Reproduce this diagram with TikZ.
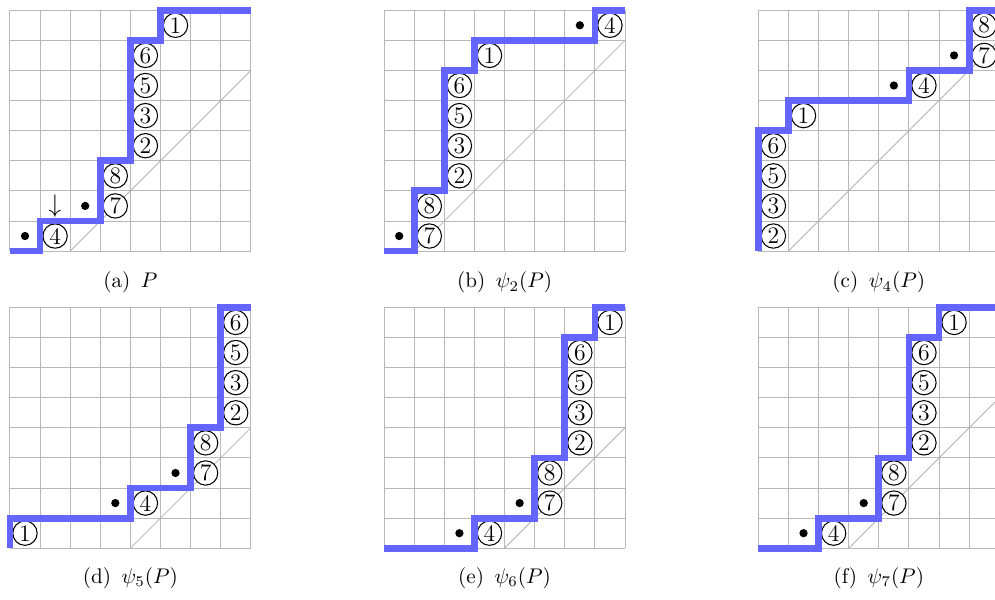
\documentclass[tikz,border=0pt]{standalone}
\definecolor{pathblue}{RGB}{100,100,255}
\tikzset{
    gridline/.style={black!28, line width=0.45pt},
    diagline/.style={black!30, line width=0.4pt},
    lattpath/.style={pathblue, line width=3.2pt, line join=miter},
    lab/.style={circle, draw, fill=white, inner sep=0pt, minimum size=11.5pt,
        line width=0.5pt, font=\fontsize{11.2}{13}\selectfont},
    blob/.style={circle, fill=black, inner sep=0pt, minimum size=3.9pt},
    capt/.style={font=\normalsize}
}
\begin{document}
\begin{tikzpicture}[x=0.5cm, y=0.5cm]
    \useasboundingbox (-0.33,-1.69) rectangle (32.72,18.21);

    % (a) P
    \begin{scope}[shift={(0,9.87)}]
        \draw[gridline, step=1] (0,0) grid (8,8);
        \draw[diagline] (2,0) -- (8,6);
        \foreach \n/\x/\y in {4/1/0, 7/3/1, 8/3/2, 2/4/3, 3/4/4, 5/4/5, 6/4/6, 1/5/7}
            \node[lab] (a\n) at (\x+0.5,\y+0.5) {\n};
        \draw[lattpath] (0,0) -- (1,0) -- (1,1) -- (3,1) -- (3,3) -- (4,3)
            -- (4,7) -- (5,7) -- (5,8) -- (8,8);
        \node[blob] (adot1) at (0.5,0.5) {};
        \node[blob] (adot2) at (2.5,1.5) {};
        \node[font=\large] (amark) at (1.5,1.5) {$\downarrow$};
        \node[capt] (capa) at (4,-1.05) {(a)\, $P$};
    \end{scope}

    % (b) psi_2(P)
    \begin{scope}[shift={(12.43,9.87)}]
        \draw[gridline, step=1] (0,0) grid (8,8);
        \draw[diagline] (1,0) -- (8,7);
        \foreach \n/\x/\y in {7/1/0, 8/1/1, 2/2/2, 3/2/3, 5/2/4, 6/2/5, 1/3/6, 4/7/7}
            \node[lab] (b\n) at (\x+0.5,\y+0.5) {\n};
        \draw[lattpath] (0,0) -- (1,0) -- (1,2) -- (2,2) -- (2,6) -- (3,6)
            -- (3,7) -- (7,7) -- (7,8) -- (8,8);
        \node[blob] (bdot1) at (0.5,0.5) {};
        \node[blob] (bdot2) at (6.5,7.5) {};
        \node[capt] (capb) at (4,-1.05) {(b)\, $\psi_2(P)$};
    \end{scope}

    % (c) psi_4(P)
    \begin{scope}[shift={(24.86,9.87)}]
        \draw[gridline, step=1] (0,0) grid (8,8);
        \draw[diagline] (1,0) -- (8,7);
        \foreach \n/\x/\y in {2/0/0, 3/0/1, 5/0/2, 6/0/3, 1/1/4, 4/5/5, 7/7/6, 8/7/7}
            \node[lab] (c\n) at (\x+0.5,\y+0.5) {\n};
        \draw[lattpath] (0,0) -- (0,4) -- (1,4) -- (1,5) -- (5,5) -- (5,6)
            -- (7,6) -- (7,8) -- (8,8);
        \node[blob] (cdot1) at (4.5,5.5) {};
        \node[blob] (cdot2) at (6.5,6.5) {};
        \node[capt] (capc) at (4,-1.05) {(c)\, $\psi_4(P)$};
    \end{scope}

    % (d) psi_5(P)
    \begin{scope}
        \draw[gridline, step=1] (0,0) grid (8,8);
        \draw[diagline] (4,0) -- (8,4);
        \foreach \n/\x/\y in {1/0/0, 4/4/1, 7/6/2, 8/6/3, 2/7/4, 3/7/5, 5/7/6, 6/7/7}
            \node[lab] (d\n) at (\x+0.5,\y+0.5) {\n};
        \draw[lattpath] (0,0) -- (0,1) -- (4,1) -- (4,2) -- (6,2) -- (6,4)
            -- (7,4) -- (7,8) -- (8,8);
        \node[blob] (ddot1) at (3.5,1.5) {};
        \node[blob] (ddot2) at (5.5,2.5) {};
        \node[capt] (capd) at (4,-1.0) {(d)\, $\psi_5(P)$};
    \end{scope}

    % (e) psi_6(P)
    \begin{scope}[shift={(12.43,0)}]
        \draw[gridline, step=1] (0,0) grid (8,8);
        \draw[diagline] (4,0) -- (8,4);
        \foreach \n/\x/\y in {4/3/0, 7/5/1, 8/5/2, 2/6/3, 3/6/4, 5/6/5, 6/6/6, 1/7/7}
            \node[lab] (e\n) at (\x+0.5,\y+0.5) {\n};
        \draw[lattpath] (0,0) -- (3,0) -- (3,1) -- (5,1) -- (5,3) -- (6,3)
            -- (6,7) -- (7,7) -- (7,8) -- (8,8);
        \node[blob] (edot1) at (2.5,0.5) {};
        \node[blob] (edot2) at (4.5,1.5) {};
        \node[capt] (cape) at (4,-1.0) {(e)\, $\psi_6(P)$};
    \end{scope}

    % (f) psi_7(P)
    \begin{scope}[shift={(24.86,0)}]
        \draw[gridline, step=1] (0,0) grid (8,8);
        \draw[diagline] (3,0) -- (8,5);
        \foreach \n/\x/\y in {4/2/0, 7/4/1, 8/4/2, 2/5/3, 3/5/4, 5/5/5, 6/5/6, 1/6/7}
            \node[lab] (f\n) at (\x+0.5,\y+0.5) {\n};
        \draw[lattpath] (0,0) -- (2,0) -- (2,1) -- (4,1) -- (4,3) -- (5,3)
            -- (5,7) -- (6,7) -- (6,8) -- (8,8);
        \node[blob] (fdot1) at (1.5,0.5) {};
        \node[blob] (fdot2) at (3.5,1.5) {};
        \node[capt] (capf) at (4,-1.0) {(f)\, $\psi_7(P)$};
    \end{scope}

\end{tikzpicture}
\end{document}
